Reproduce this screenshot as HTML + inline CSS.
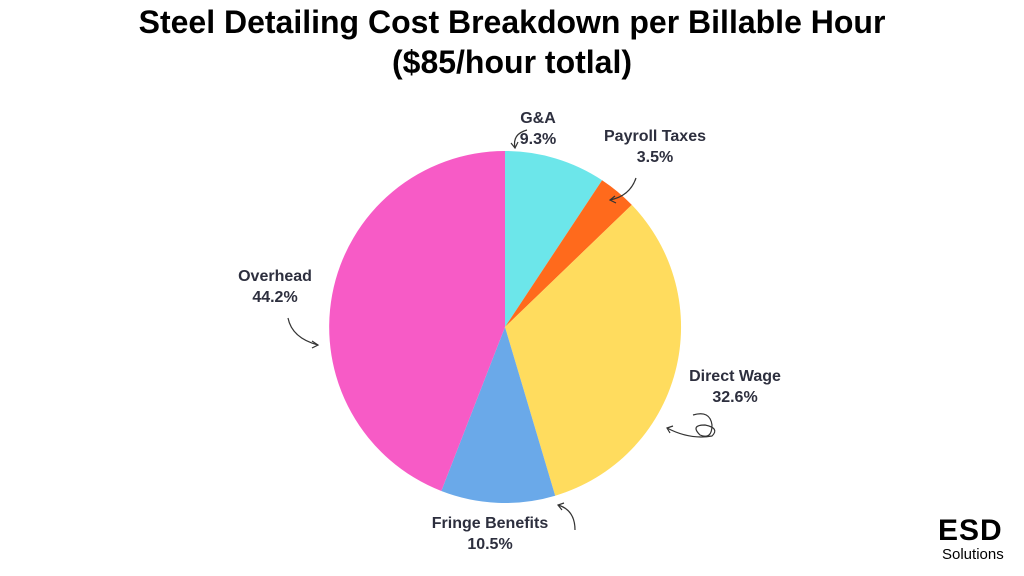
<!DOCTYPE html>
<html><head><meta charset="utf-8"><style>
html,body{margin:0;padding:0;background:#fff;}
body{width:1024px;height:576px;overflow:hidden;position:relative;font-family:"Liberation Sans","DejaVu Sans",sans-serif;}
.t{position:absolute;left:0;width:1024px;text-align:center;font-weight:bold;color:#000;font-size:32px;}
.l{position:absolute;font-weight:bold;color:#2d2f3e;font-size:16px;line-height:21px;text-align:center;}
</style></head><body>
<div class="t" style="top:4px">Steel Detailing Cost Breakdown per Billable Hour</div>
<div class="t" style="top:44px">($85/hour totlal)</div>
<svg width="1024" height="576" style="position:absolute;left:0;top:0">
<path d="M505,327 L505,151 A176,176 0 0 1 602.1,180.2 Z" fill="#6ce6ea"/>
<path d="M505,327 L602.1,180.2 A176,176 0 0 1 631.8,204.9 Z" fill="#ff6a1c"/>
<path d="M505,327 L631.8,204.9 A176,176 0 0 1 555.2,495.7 Z" fill="#ffdc5e"/>
<path d="M505,327 L555.2,495.7 A176,176 0 0 1 441.3,491 Z" fill="#6aa9e9"/>
<path d="M505,327 L441.3,491 A176,176 0 0 1 505,151 Z" fill="#f75bc6"/>
<g fill="none" stroke="#333" stroke-width="1.2">
<path d="M527,130 Q512,134 515,148"/><path d="M511,143 L515,148 L518,142"/>
<path d="M636,178 Q630,196 610,200"/><path d="M615,196 L610,200 L616,203"/>
<path d="M288,318 Q292,338 318,345"/><path d="M312,341 L318,345 L312,348"/>
<path d="M693,415 Q710,410 712,425 Q712,440 700,435 Q690,425 705,425 Q720,428 712,436 Q690,440 667,428"/><path d="M670,433 L667,428 L673,426"/>
<path d="M575,530 Q575,510 558,505"/><path d="M564,503 L558,505 L562,510"/>
</g>
</svg>
<div class="l" style="left:513px;top:108px;width:50px">G&amp;A<br>9.3%</div>
<div class="l" style="left:590px;top:126px;width:130px">Payroll Taxes<br>3.5%</div>
<div class="l" style="left:225px;top:266px;width:100px">Overhead<br>44.2%</div>
<div class="l" style="left:680px;top:366px;width:110px">Direct Wage<br>32.6%</div>
<div class="l" style="left:420px;top:513px;width:140px">Fringe Benefits<br>10.5%</div>
<div style="position:absolute;left:938px;top:514px;font-weight:bold;font-size:30px;color:#000;letter-spacing:1px">ESD</div>
<div style="position:absolute;left:942px;top:546px;font-size:15px;color:#000">Solutions</div>
</body></html>
